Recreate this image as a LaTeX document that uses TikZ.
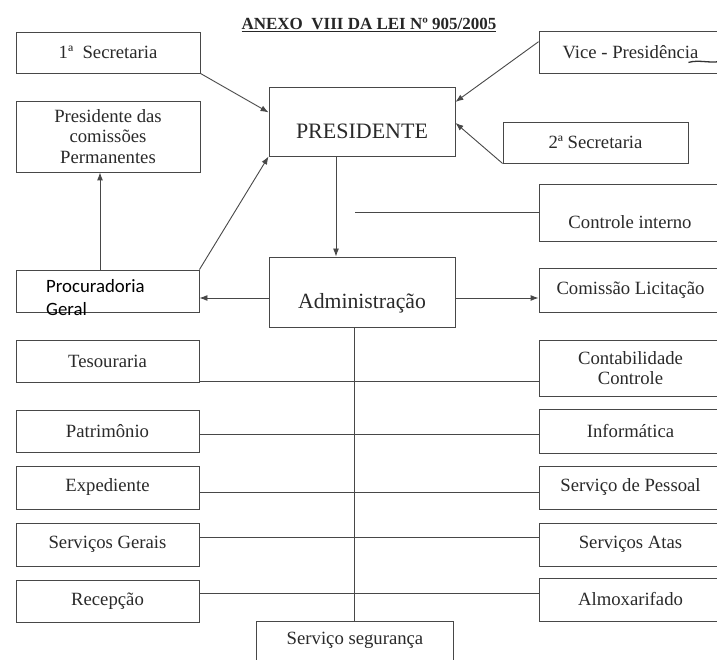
\documentclass[tikz,border=0pt]{standalone}
\usepackage{fontspec}
\setmainfont{Liberation Serif}
\newfontfamily\calibfont{Carlito}
\usetikzlibrary{arrows.meta,calc}
\definecolor{ln}{HTML}{484848}
\definecolor{tx}{HTML}{2A2A2A}
\tikzset{
  box/.style={draw=ln, line width=0.9pt, inner sep=0pt, align=center, text=tx,
    font=\fontsize{18.7}{20.5}\selectfont},
  lbl/.style={inner sep=0pt, align=center, text=tx},
  conn/.style={draw=ln, line width=0.9pt},
  arr/.style={conn, -{Latex[length=8pt,width=6pt]}}
}
\begin{document}
\begin{tikzpicture}[x=1pt,y=-1pt]
\fill[white] (0,0) rectangle (717,660);
\useasboundingbox (0,0) rectangle (717,660);

% title
\node[lbl, font=\bfseries\fontsize{17}{19}\selectfont, text=black!85] (title) at (369,25) {\underline{ANEXO\ \ VIII DA LEI Nº 905/2005}};

% boxes
\node[box, minimum width=184pt, minimum height=41pt] (sec1) at (108,52.5) {1ª\ \ Secretaria};
\node[box, minimum width=184pt, minimum height=71pt] (pcp) at (108,136.5) {Presidente das\\comissões\\Permanentes};
\node[box, minimum width=186pt, minimum height=69pt] (pres) at (362,121.5) {};
\node[lbl, font=\fontsize{22}{24}\selectfont] (presT) at (362,131) {PRESIDENTE};
\node[box, minimum width=183pt, minimum height=42pt] (vice) at (630.5,52) {Vice - Presidência};
\node[box, minimum width=185pt, minimum height=41pt] (sec2) at (595.5,142.5) {2ª Secretaria};
\node[box, minimum width=183pt, minimum height=57pt] (ctrl) at (630.5,212.5) {};
\node[lbl, font=\fontsize{18.7}{20}\selectfont] (ctrlT) at (630,222) {Controle interno};
\node[box, minimum width=186pt, minimum height=70pt] (adm) at (362,292) {};
\node[lbl, font=\fontsize{21.7}{24}\selectfont] (admT) at (362,303) {Administração};
\node[box, minimum width=183pt, minimum height=42pt] (proc) at (107.5,291) {};
\node[inner sep=0pt, anchor=west, align=left, text=black, font=\calibfont\fontsize{18.8}{23}\selectfont] (procT) at (46,298) {Procuradoria\\Geral};
\node[box, minimum width=183pt, minimum height=44pt] (lic) at (630.5,290) {Comissão Licitação};
\node[box, minimum width=183pt, minimum height=42pt] (tes) at (107.5,361) {Tesouraria};
\node[box, minimum width=183pt, minimum height=56pt] (cont) at (630.5,368) {Contabilidade\\Controle};
\node[box, minimum width=183pt, minimum height=42pt] (pat) at (107.5,431) {Patrimônio};
\node[box, minimum width=183pt, minimum height=44pt] (inf) at (630.5,431) {Informática};
\node[box, minimum width=183pt, minimum height=43pt] (exp) at (107.5,487.5) {Expediente};
\node[box, minimum width=183pt, minimum height=43pt] (pes) at (630.5,487.5) {Serviço de Pessoal};
\node[box, minimum width=183pt, minimum height=43pt] (sg) at (107.5,544.5) {Serviços Gerais};
\node[box, minimum width=183pt, minimum height=43pt] (atas) at (630.5,544.5) {Serviços Atas};
\node[box, minimum width=183pt, minimum height=42pt] (rec) at (107.5,601) {Recepção};
\node[box, minimum width=183pt, minimum height=43pt] (alm) at (630.5,599.5) {Almoxarifado};
\node[box, minimum width=197pt, minimum height=69pt] (seg) at (354.5,655.5) {};
\node[lbl, font=\fontsize{18.7}{20}\selectfont] (segT) at (355,640) {Serviço segurança};

% squiggle under Vice-Presidencia
\draw[line width=1.3pt, black!80] ($(vice.south east)+(-34,-11)$) .. controls ($(vice.south east)+(-24,-14)$) and ($(vice.south east)+(-12,-10)$) .. ($(vice.south east)+(-3,-12)$);

% arrows to PRESIDENTE
\draw[arr] (sec1.south east) -- ($(pres.north west)!0.37!(pres.south west)$);
\draw[arr] (proc.north east) -- (pres.south west);
\draw[arr] ($(vice.north west)!0.26!(vice.south west)$) -- ($(pres.north east)!0.22!(pres.south east)$);
\draw[arr] (sec2.south west) -- ($(pres.north east)!0.52!(pres.south east)$);

% PRESIDENTE -> Administracao
\draw[arr] ([xshift=-26pt]pres.south) -- ([xshift=-26pt]adm.north);

% controle interno line
\coordinate (c1) at (355,212);
\draw[conn] (c1) -- (c1 -| ctrl.west);

% Administracao -> sides
\draw[arr] ([yshift=-6pt]adm.west) -- ([yshift=-6pt]adm.west -| proc.east);
\draw[arr] ([yshift=-6pt]adm.east) -- ([yshift=-6pt]adm.east -| lic.west);

% Procuradoria -> Presidente das comissoes
\draw[arr] ([xshift=-8pt]pcp.south |- proc.north) -- ([xshift=-8pt]pcp.south);

% trunk
\draw[conn] (seg.north |- adm.south) -- (seg.north);

% horizontal links
\draw[conn] ([yshift=1pt]tes.south east) -- ([yshift=1pt]tes.south east -| cont.west);
\draw[conn] ([yshift=-3pt]pat.east) -- ([yshift=-3pt]pat.east -| inf.west);
\draw[conn] ([yshift=-4.5pt]exp.east) -- ([yshift=-4.5pt]exp.east -| pes.west);
\draw[conn] ([yshift=7.5pt]sg.east) -- ([yshift=7.5pt]sg.east -| atas.west);
\draw[conn] ([yshift=8pt]rec.east) -- ([yshift=8pt]rec.east -| alm.west);
\end{tikzpicture}
\end{document}
